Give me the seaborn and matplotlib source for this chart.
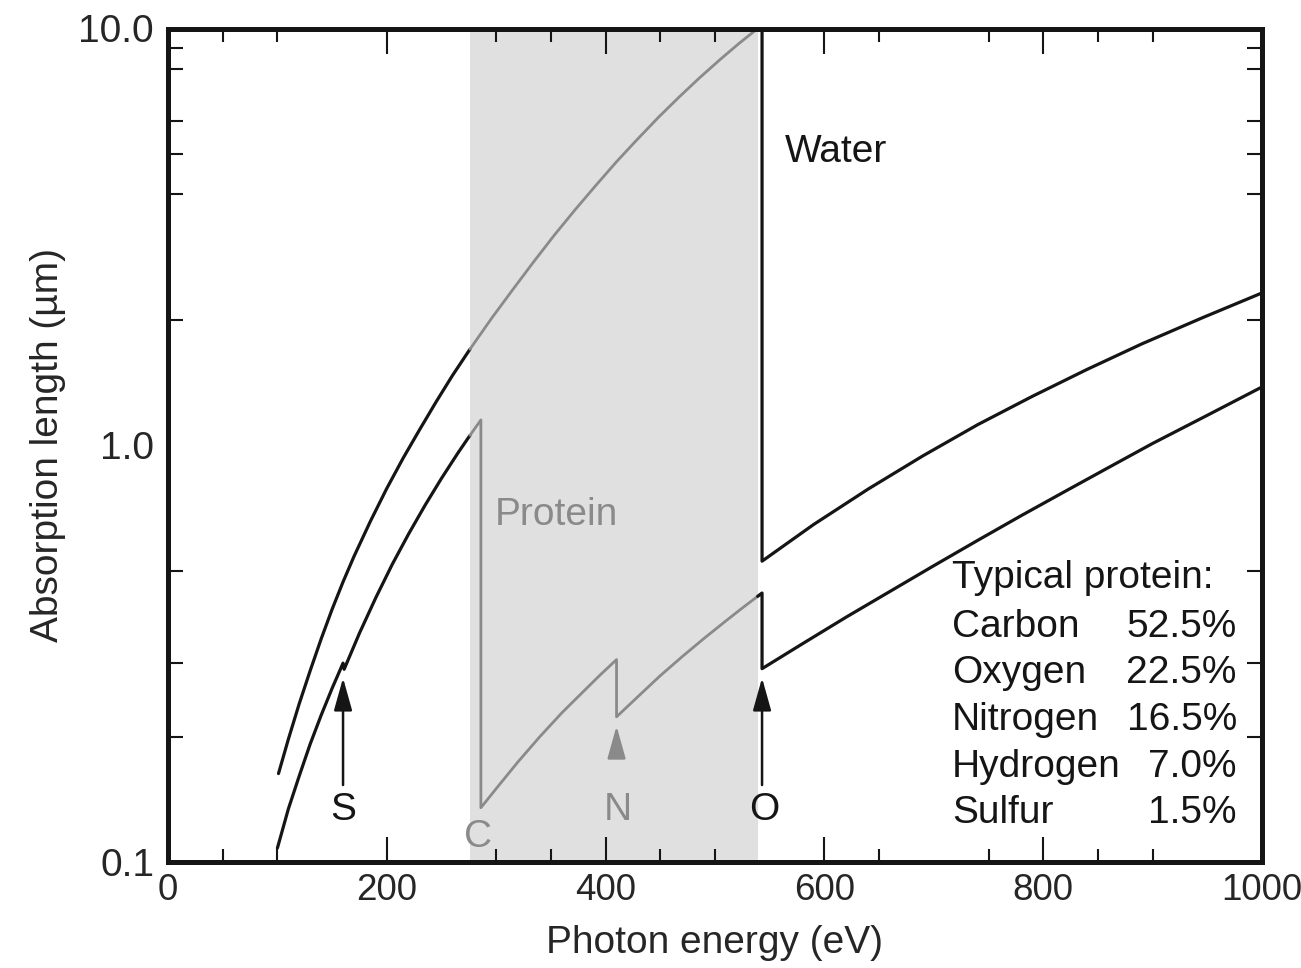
import matplotlib
matplotlib.use("Agg")
import matplotlib.pyplot as plt
from matplotlib.ticker import FixedLocator, NullFormatter
import pandas as pd
import seaborn as sns

# Absorption length of water and of a typical protein vs photon energy
water_ev = [101, 110, 120, 130, 140, 150, 160, 170, 185, 200, 215, 230, 245,
            260, 276, 296, 315, 334, 353, 372, 391, 410, 429, 448, 467, 486,
            505, 522, 539, 543, 543, 590, 640, 690, 740, 790, 840, 890, 945,
            1000]
water_len = [0.163, 0.197, 0.240, 0.288, 0.343, 0.404, 0.470, 0.541, 0.657,
             0.788, 0.932, 1.09, 1.27, 1.47, 1.70, 2.02, 2.36, 2.75, 3.19,
             3.67, 4.20, 4.79, 5.42, 6.11, 6.84, 7.62, 8.44, 9.21, 10.0, 10.4,
             0.527, 0.645, 0.785, 0.943, 1.12, 1.31, 1.52, 1.75, 2.02, 2.32]

protein_ev = [100, 110, 120, 130, 140, 150, 160, 161, 175, 190, 205, 220, 235,
              250, 265, 276, 286, 286, 300, 320, 340, 360, 380, 395, 410, 410,
              430, 450, 470, 490, 510, 525, 539, 543, 543, 580, 620, 660, 700,
              740, 780, 820, 860, 900, 950, 1000]
protein_len = [0.108, 0.134, 0.161, 0.192, 0.225, 0.261, 0.300, 0.290, 0.354,
               0.431, 0.518, 0.613, 0.718, 0.833, 0.958, 1.056, 1.15, 0.135,
               0.150, 0.174, 0.200, 0.228, 0.257, 0.281, 0.306, 0.223, 0.250,
               0.280, 0.311, 0.344, 0.379, 0.407, 0.434, 0.442, 0.291, 0.334,
               0.387, 0.446, 0.514, 0.591, 0.678, 0.775, 0.885, 1.01, 1.18,
               1.38]

# Water window (carbon K edge to oxygen K edge)
window = (276, 539)

# Absorption edges marked along the bottom
edge_names = ["S", "C", "N", "O"]
edge_ev = [160, 283, 411, 545]

# Composition of a typical protein
comp_names = ["Carbon", "Oxygen", "Nitrogen", "Hydrogen", "Sulfur"]
comp_values = ["52.5%", "22.5%", "16.5%", "7.0%", "1.5%"]

x_major = [0, 200, 400, 600, 800, 1000]
x_minor = [50, 100, 300, 350, 450, 500, 650, 750, 850, 900]
y_major = [0.1, 1.0, 10.0]
y_labels = ["0.1", "1.0", "10.0"]
y_minor = [0.2, 0.3, 0.5, 2, 4, 5, 6, 8, 9]

BLACK = "#151515"
GRAY = "#8a8a8a"
SHADE = "#e0e0e0"

sns.set_theme(style="ticks")
plt.rcParams["font.family"] = ["Liberation Sans", "DejaVu Sans"]
plt.rcParams["font.size"] = 28

fig = plt.figure(figsize=(13.01, 9.68), dpi=100)
ax = fig.add_axes([168 / 1301, 1 - 862 / 968, 1094 / 1301, (862 - 28.5) / 968])


def pieces(ev, val, lo, hi):
    """Split a curve into the part left of, inside and right of the window."""
    df = pd.DataFrame({"ev": ev, "len": val})
    left = df[df["ev"] <= lo]
    mid = df[(df["ev"] >= lo) & (df["ev"] <= hi)]
    right = df[df["ev"] >= hi]
    return [(left, BLACK, 2.3), (mid, GRAY, 2.0), (right, BLACK, 2.3)]


ax.axvspan(window[0], window[1], color=SHADE, zorder=0, lw=0)

for ev, val in [(water_ev, water_len), (protein_ev, protein_len)]:
    for part, col, lw in pieces(ev, val, *window):
        sns.lineplot(data=part, x="ev", y="len", color=col, lw=lw,
                     sort=False, estimator=None, ax=ax, zorder=3)

ax.set_yscale("log")
ax.set_xlim(0, 1000)
ax.set_ylim(0.1, 10)

ax.xaxis.set_major_locator(FixedLocator(x_major))
ax.xaxis.set_minor_locator(FixedLocator(x_minor))
ax.yaxis.set_major_locator(FixedLocator(y_major))
ax.set_yticklabels(y_labels)
ax.yaxis.set_minor_locator(FixedLocator(y_minor))
ax.yaxis.set_minor_formatter(NullFormatter())

ax.tick_params(axis="x", which="major", direction="in", length=18, width=1.5,
               top=True, bottom=True, pad=8, labelsize=26.5, color=BLACK)
ax.tick_params(axis="x", which="minor", direction="in", length=9.5, width=1.5,
               top=True, bottom=True, color=BLACK)
ax.tick_params(axis="y", which="major", direction="in", length=0, width=1.5,
               left=True, right=True, pad=10, labelsize=28)
ax.tick_params(axis="y", which="minor", direction="in", length=11, width=1.5,
               left=True, right=True, color=BLACK)

for s in ax.spines.values():
    s.set_linewidth(3.6)
    s.set_color(BLACK)
    s.set_zorder(5)

ax.set_xlabel("Photon energy (eV)", fontsize=28, labelpad=12)
ax.set_ylabel("Absorption length (\u00b5m)", fontsize=28, labelpad=9)

# Curve labels
ax.text(564, 5.05, "Water", fontsize=28, color=BLACK, ha="left", va="center")
ax.text(299, 0.68, "Protein", fontsize=28, color=GRAY, ha="left", va="center")

# Edge labels with arrows
edge_y = [0.1333, 0.115, 0.1333, 0.1333]
edge_col = [BLACK, GRAY, GRAY, BLACK]
for name, x, y, c in zip(edge_names, edge_ev, edge_y, edge_col):
    ax.text(x, y, name, fontsize=28, color=c, ha="center", va="center", zorder=4)

arrow_kw = dict(arrowstyle="-|>,head_length=1.0,head_width=0.28",
                mutation_scale=20, lw=1.8, shrinkA=0, shrinkB=0)
ax.annotate("", xy=(edge_ev[0], 0.2765), xytext=(edge_ev[0], 0.153),
            arrowprops=dict(color=BLACK, **arrow_kw), zorder=4)
ax.annotate("", xy=(543, 0.2765), xytext=(543, 0.153),
            arrowprops=dict(color=BLACK, **arrow_kw), zorder=4)
ax.annotate("", xy=(410, 0.212), xytext=(410, 0.181),
            arrowprops=dict(color=GRAY, **arrow_kw), zorder=4)

# Composition table
row_y = [0.270, 0.2148, 0.1584, 0.102, 0.0468]
ax.text(0.7166, 0.3287, "Typical protein:", transform=ax.transAxes,
        fontsize=28, ha="left", va="baseline", color=BLACK)
for name, val, y in zip(comp_names, comp_values, row_y):
    ax.text(0.7166, y, name, transform=ax.transAxes, fontsize=28,
            ha="left", va="baseline", color=BLACK)
    ax.text(0.977, y, val, transform=ax.transAxes, fontsize=28,
            ha="right", va="baseline", color=BLACK)

fig.savefig("out.png", dpi=100)
